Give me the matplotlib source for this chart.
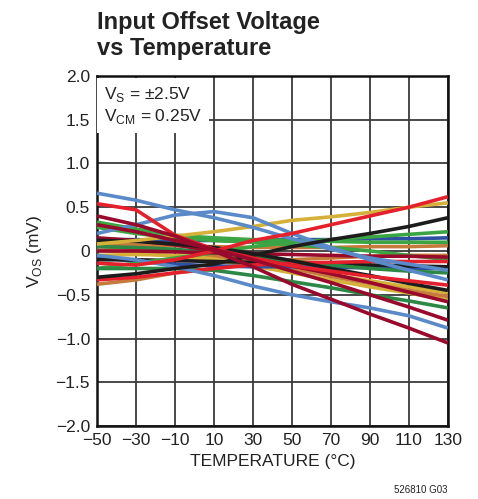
import matplotlib
matplotlib.use("Agg")
import matplotlib.pyplot as plt
from matplotlib import font_manager

# temperature points (deg C)
temps = [-50, -30, -10, 10, 30, 50, 70, 90, 110, 130]

# offset voltage traces (mV), one per unit
lblue_1 = [0.66, 0.58, 0.47, 0.38, 0.27, 0.14, 0.02, -0.08, -0.15, -0.22]
lblue_2 = [0.20, 0.30, 0.41, 0.45, 0.38, 0.20, 0.04, -0.10, -0.22, -0.33]
lblue_3 = [-0.05, -0.10, -0.18, -0.28, -0.40, -0.50, -0.58, -0.65, -0.74, -0.88]
red_1 = [0.54, 0.47, 0.18, 0.02, -0.08, -0.17, -0.23, -0.29, -0.34, -0.39]
red_2 = [-0.14, -0.16, -0.10, 0.00, 0.12, 0.20, 0.30, 0.40, 0.50, 0.62]
red_3 = [-0.33, -0.30, -0.25, -0.20, -0.16, -0.14, -0.13, -0.12, -0.12, -0.12]
dred_1 = [0.40, 0.30, 0.17, 0.00, -0.18, -0.38, -0.55, -0.72, -0.88, -1.05]
dred_2 = [0.30, 0.22, 0.12, 0.02, -0.10, -0.23, -0.36, -0.50, -0.64, -0.79]
dred_3 = [0.15, 0.12, 0.07, 0.00, -0.08, -0.17, -0.26, -0.36, -0.47, -0.58]
dred_4 = [0.00, 0.00, -0.01, -0.02, -0.03, -0.04, -0.05, -0.06, -0.06, -0.07]
green_1 = [0.33, 0.25, 0.18, 0.15, 0.13, 0.12, 0.11, 0.10, 0.10, 0.10]
green_2 = [0.27, 0.20, 0.15, 0.12, 0.10, 0.07, 0.04, 0.00, -0.05, -0.10]
green_3 = [-0.20, -0.14, -0.08, -0.02, 0.05, 0.10, 0.13, 0.16, 0.19, 0.22]
dgreen_1 = [-0.20, -0.20, -0.20, -0.22, -0.28, -0.35, -0.42, -0.50, -0.57, -0.65]
dgreen_2 = [0.05, 0.04, 0.02, -0.02, -0.07, -0.12, -0.16, -0.20, -0.23, -0.25]
yellow_1 = [0.08, 0.12, 0.17, 0.22, 0.28, 0.35, 0.39, 0.44, 0.50, 0.55]
yellow_2 = [0.01, -0.02, -0.06, -0.11, -0.17, -0.25, -0.33, -0.41, -0.48, -0.56]
yellow_3 = [-0.05, -0.04, -0.05, -0.08, -0.13, -0.19, -0.27, -0.34, -0.41, -0.48]
black_1 = [-0.30, -0.26, -0.20, -0.15, -0.05, 0.05, 0.13, 0.20, 0.28, 0.38]
black_2 = [0.12, 0.11, 0.08, 0.04, -0.03, -0.11, -0.20, -0.28, -0.37, -0.45]
black_3 = [-0.10, -0.10, -0.11, -0.12, -0.13, -0.14, -0.15, -0.16, -0.17, -0.18]
dblue_1 = [0.13, 0.13, 0.12, 0.12, 0.12, 0.13, 0.13, 0.14, 0.14, 0.15]
dblue_2 = [-0.07, -0.12, -0.15, -0.17, -0.18, -0.18, -0.19, -0.19, -0.20, -0.20]
orange_1 = [0.08, 0.07, 0.06, 0.05, 0.04, 0.04, 0.04, 0.05, 0.05, 0.06]
orange_2 = [0.05, 0.03, 0.00, -0.05, -0.12, -0.20, -0.29, -0.37, -0.45, -0.52]
orange_3 = [-0.38, -0.33, -0.25, -0.20, -0.15, -0.10, -0.08, -0.06, -0.05, -0.05]

LBLUE, RED, DRED = '#5A8AC8', '#E3202C', '#98092B'
GREEN, DGREEN = '#3BA544', '#2B8845'
YELLOW, BLACK, DBLUE, ORANGE = '#D5B13A', '#1C1C1C', '#2E50A2', '#C67B3D'

traces = [
    (yellow_2, YELLOW), (yellow_3, YELLOW), (orange_1, ORANGE), (orange_2, ORANGE),
    (orange_3, ORANGE), (dblue_1, DBLUE), (dblue_2, DBLUE), (black_3, BLACK),
    (green_1, GREEN), (green_2, GREEN), (green_3, GREEN), (dgreen_1, DGREEN),
    (dgreen_2, DGREEN), (red_3, RED), (dred_4, DRED), (dred_3, DRED),
    (black_2, BLACK), (yellow_1, YELLOW), (lblue_1, LBLUE), (lblue_2, LBLUE),
    (lblue_3, LBLUE), (black_1, BLACK), (red_1, RED), (red_2, RED),
    (dred_2, DRED), (dred_1, DRED),
]

names = {f.name for f in font_manager.fontManager.ttflist}
narrow = 'Liberation Sans Narrow' if 'Liberation Sans Narrow' in names else 'Liberation Sans'
plt.rcParams['font.family'] = [narrow, 'DejaVu Sans']

fig = plt.figure(figsize=(4.78, 4.99), dpi=100)
ax = fig.add_axes([0.203, 0.146, 0.734, 0.702])

for vals, col in traces:
    ax.plot(temps, vals, color=col, lw=2.6, solid_capstyle='butt', zorder=3)

ax.set_xlim(-50, 130)
ax.set_ylim(-2, 2)
ax.set_xticks(range(-50, 131, 20))
ax.set_yticks([-2, -1.5, -1, -0.5, 0, 0.5, 1, 1.5, 2])
ax.set_xticklabels(['\u221250', '\u221230', '\u221210'] + [str(t) for t in range(10, 131, 20)])
ax.set_yticklabels(['\u22122.0', '\u22121.5', '\u22121.0', '\u22120.5', '0',
                    '0.5', '1.0', '1.5', '2.0'])
ax.tick_params(length=0, labelsize=12.5, pad=5, colors='#222222')
ax.grid(True, color='#3a3a3a', lw=1.3, zorder=1)
for s in ax.spines.values():
    s.set_linewidth(1.8)
    s.set_color('#111111')

ax.set_xlabel('TEMPERATURE (\u00b0C)', fontsize=12.5, labelpad=4, color='#222222')
ax.set_ylabel('V$_{\\mathregular{OS}}$ (mV)', fontsize=12.5, labelpad=8, color='#222222')

ax.text(0.02, 0.975, 'V$_{\\mathregular{S}}$ = \u00b12.5V\nV$_{\\mathregular{CM}}$ = 0.25V',
        transform=ax.transAxes, ha='left', va='top', fontsize=12.5, color='#222222',
        linespacing=1.25, zorder=5,
        bbox=dict(facecolor='white', edgecolor='none', pad=5))

fig.text(0.203, 0.955, 'Input Offset Voltage', fontsize=17, fontweight='bold',
         ha='left', va='center', color='#222222')
fig.text(0.203, 0.903, 'vs Temperature', fontsize=17, fontweight='bold',
         ha='left', va='center', color='#222222')
fig.text(0.937, 0.018, '526810 G03', fontsize=7, ha='right', va='center', color='#222222')

fig.savefig('out.png', dpi=100)
